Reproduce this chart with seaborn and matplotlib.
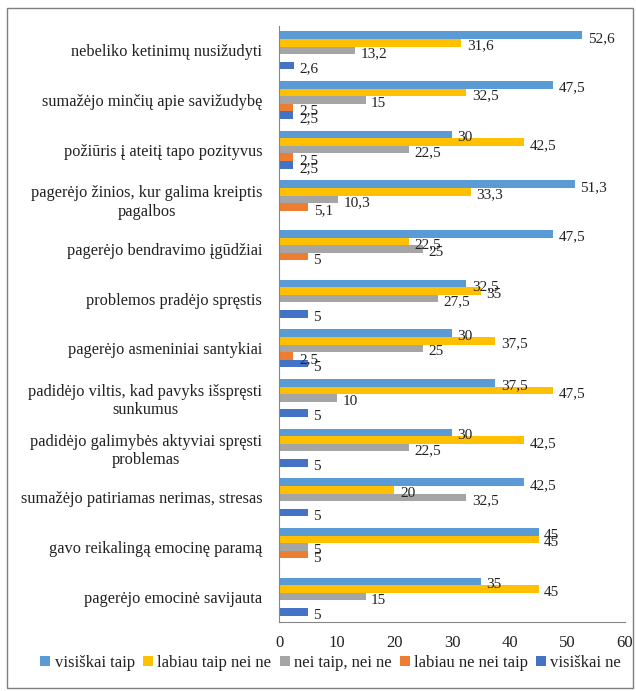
import matplotlib
matplotlib.use("Agg")
import matplotlib.pyplot as plt
from matplotlib.patches import Rectangle
import seaborn as sns
import pandas as pd

categories = [
    "nebeliko ketinimų nusižudyti",
    "sumažėjo minčių apie savižudybę",
    "požiūris į ateitį tapo pozityvus",
    "pagerėjo žinios, kur galima kreiptis\npagalbos",
    "pagerėjo bendravimo įgūdžiai",
    "problemos pradėjo spręstis",
    "pagerėjo asmeniniai santykiai",
    "padidėjo viltis, kad pavyks išspręsti\nsunkumus",
    "padidėjo galimybės aktyviai spręsti\nproblemas",
    "sumažėjo patiriamas nerimas, stresas",
    "gavo reikalingą emocinę paramą",
    "pagerėjo emocinė savijauta",
]
series_names = ["visiškai taip", "labiau taip nei ne", "nei taip, nei ne",
                "labiau ne nei taip", "visiškai ne"]
visiskai_taip = [52.6, 47.5, 30, 51.3, 47.5, 32.5, 30, 37.5, 30, 42.5, 45, 35]
labiau_taip = [31.6, 32.5, 42.5, 33.3, 22.5, 35, 37.5, 47.5, 42.5, 20, 45, 45]
nei_taip_nei_ne = [13.2, 15, 22.5, 10.3, 25, 27.5, 25, 10, 22.5, 32.5, 5, 15]
labiau_ne = [0, 2.5, 2.5, 5.1, 5, 0, 2.5, 0, 0, 0, 5, 0]
visiskai_ne = [2.6, 2.5, 2.5, 0, 0, 5, 5, 5, 5, 5, 0, 5]
colors = ["#5B9BD5", "#FFC000", "#A5A5A5", "#ED7D31", "#4472C4"]
x_ticks = [0, 10, 20, 30, 40, 50, 60]

all_series = [visiskai_taip, labiau_taip, nei_taip_nei_ne, labiau_ne, visiskai_ne]
rows = []
for name, vals in zip(series_names, all_series):
    for c, v in zip(categories, vals):
        rows.append({"cat": c, "series": name, "value": v})
df = pd.DataFrame(rows)

sns.set_style("white")
SERIF = ["Liberation Serif", "DejaVu Serif"]
plt.rcParams["font.family"] = SERIF

fig = plt.figure(figsize=(6.36, 6.91), dpi=100)
top_px, bot_px = 25.5, 621.5
ax = fig.add_axes([279/636, 1-bot_px/691, (625-279)/636, (bot_px-top_px)/691])

sns.barplot(data=df, x="value", y="cat", hue="series", order=categories,
            hue_order=series_names, palette=colors, orient="h", width=0.77,
            linewidth=0, saturation=1, ax=ax, legend=True)

def fmt(v):
    s = f"{v:g}"
    return s.replace(".", ",")

for cont, vals in zip(ax.containers, all_series):
    for patch, v in zip(cont.patches, vals):
        if v == 0:
            continue
        yc = patch.get_y() + patch.get_height() / 2
        ax.annotate(fmt(v), (patch.get_width(), yc), xytext=(4, -2.5),
                    textcoords="offset points", va="center", ha="left",
                    fontsize=11, color="#222222", family=SERIF)

ax.set_xlim(0, 60)
ax.set_xticks(x_ticks)
ax.set_xticklabels([str(t) for t in x_ticks], fontsize=12, family=SERIF)
ax.set_ylim(len(categories) - 0.5, -0.5)
ax.set_yticks([i for i in range(len(categories))])
ax.set_yticklabels(categories, fontsize=11.8, multialignment="center",
                   family=SERIF)
ax.tick_params(axis="y", which="major", length=0, pad=12)
ax.set_yticks([i - 0.5 for i in range(len(categories) + 1)], minor=True)
ax.tick_params(axis="y", which="minor", length=5, color="#868686", width=0.8)
ax.tick_params(axis="x", which="major", length=5, color="#868686", width=0.8,
               direction="out", pad=5, labelcolor="#222222")
ax.tick_params(axis="y", labelcolor="#222222")
ax.set_xlabel("")
ax.set_ylabel("")
for side in ["top", "right"]:
    ax.spines[side].set_visible(False)
for side in ["left", "bottom"]:
    ax.spines[side].set_color("#868686")
    ax.spines[side].set_linewidth(0.8)

leg = ax.get_legend()
handles, labels = ax.get_legend_handles_labels()
leg.remove()
lg = fig.legend(handles, labels, loc="center", bbox_to_anchor=(0.52, 1-663/691),
                ncol=5, frameon=False, prop={"family": SERIF, "size": 12},
                handlelength=0.6, handleheight=0.6, handletextpad=0.25,
                columnspacing=0.5)
for t in lg.get_texts():
    t.set_color("#222222")

fig.patches.append(Rectangle((7/636, 3/691), 626/636, 680/691,
                             transform=fig.transFigure, fill=False,
                             edgecolor="#7F7F7F", linewidth=1.0))

fig.savefig("out.png", dpi=100)
